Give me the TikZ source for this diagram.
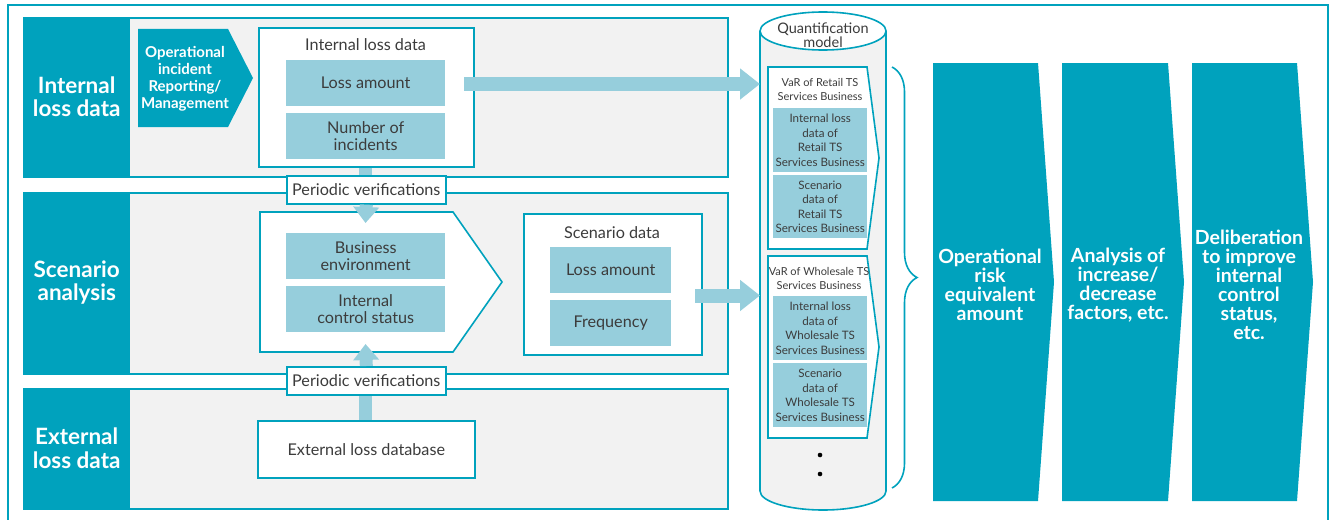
\documentclass[tikz,border=0pt]{standalone}
\usepackage{fontspec}
\setmainfont{Lato}
\usetikzlibrary{arrows.meta,decorations.pathreplacing,calc}
\definecolor{teal0}{RGB}{0,162,189}
\definecolor{lblue}{RGB}{150,206,220}
\definecolor{bggray}{RGB}{242,242,242}
\definecolor{txt}{RGB}{60,60,60}

\begin{document}
\begin{tikzpicture}[x=1pt,y=-1pt,
  band/.style={draw=teal0, fill=bggray, line width=1.6pt, inner sep=0pt, anchor=north west},
  bandlab/.style={fill=teal0, text=white, font=\bfseries\fontsize{22.5}{23.5}\selectfont,
    align=center, inner sep=0pt, anchor=north west},
  wbox/.style={draw=teal0, fill=white, line width=1.6pt, inner sep=0pt, anchor=north west,
    text=txt, font=\fontsize{16.2}{17.5}\selectfont, align=center},
  wshape/.style={draw=teal0, fill=white, line width=1.6pt},
  item/.style={fill=lblue, text=txt, font=\fontsize{16.2}{17.5}\selectfont, align=center,
    inner sep=0pt, anchor=north west},
  smitem/.style={fill=lblue, text=txt, font=\fontsize{11.6}{14.5}\selectfont, align=center,
    inner sep=0pt, anchor=north west},
  title/.style={text=txt, font=\fontsize{16.2}{17.5}\selectfont, align=center, inner sep=0pt},
  smtitle/.style={text=txt, font=\fontsize{11}{14.5}\selectfont, align=center, inner sep=0pt},
  bigtxt/.style={text=white, font=\bfseries\fontsize{19.5}{19}\selectfont, align=center, inner sep=0pt},
  stub/.style={draw=lblue, line width=13pt},
  hflow/.style={draw=lblue, line width=14pt, -{Triangle[width=30pt,length=20pt]}},
  vflow/.style={draw=lblue, line width=13pt, -{Triangle[width=25pt,length=16pt]}},
  chevron/.style={fill=teal0}
]
\useasboundingbox (0,0) rectangle (1329,519);

% outer frame
\draw[teal0, line width=1.5pt] (8,5) rectangle (1328,535);

% three horizontal bands
\node[band, minimum width=704pt, minimum height=159pt] (band1) at (23,17) {};
\node[band, minimum width=704pt, minimum height=181pt] (band2) at (23,192) {};
\node[band, minimum width=704pt, minimum height=120pt] (band3) at (23,388) {};
\node[bandlab, minimum width=107pt, minimum height=159pt] (lab1) at (23,17) {Internal\\loss data};
\node[bandlab, minimum width=107pt, minimum height=181pt] (lab2) at (23,192) {Scenario\\analysis};
\node[bandlab, minimum width=107pt, minimum height=120pt] (lab3) at (23,388) {External\\loss data};

% incident reporting chevron
\fill[teal0] (138,29) -- (228,29) -- (253,78) -- (228,127) -- (138,127) -- cycle;
\node[text=white, font=\bfseries\fontsize{15}{17}\selectfont, align=center, inner sep=0pt]
  (oirm) at (185,79) {Operational\\incident\\Reporting/\\Management};

% stubs between boxes and verification labels
\coordinate (ildS) at (365.5,166);
\coordinate (pv1N) at (365.5,175);
\coordinate (pv2S) at (365.5,394);
\coordinate (extN) at (365.5,420);
\draw[stub] (ildS) -- (pv1N);
\draw[stub] (pv2S) -- (extN);

% internal loss data
\node[wbox, minimum width=215pt, minimum height=139pt] (ild) at (258,27) {};
\node[title] (ildT) at (365.5,45) {Internal loss data};
\node[item, minimum width=159pt, minimum height=46pt] (ilLoss) at (286,60) {Loss amount};
\node[item, minimum width=159pt, minimum height=46pt] (ilNum) at (286,113) {Number of\\incidents};

% scenario inputs
\draw[wshape] (260,212) -- (453,212) -- (502,282) -- (453,352) -- (260,352) -- cycle;
\coordinate (scenTop) at (365.5,212);
\coordinate (scenBot) at (365.5,352);
\node[item, minimum width=159pt, minimum height=46pt] (busEnv) at (286,233) {Business\\environment};
\node[item, minimum width=159pt, minimum height=46pt] (ictl) at (286,286) {Internal\\control status};

% scenario data
\node[wbox, minimum width=178pt, minimum height=141pt] (scd) at (523,213) {};
\node[title] (scdT) at (612,233) {Scenario data};
\node[item, minimum width=121pt, minimum height=46pt] (scLoss) at (550,247) {Loss amount};
\node[item, minimum width=121pt, minimum height=46pt] (scFreq) at (550,300) {Frequency};

% external database
\node[wbox, minimum width=217pt, minimum height=57pt] (ext) at (257,420) {External loss database};

% periodic verifications
\node[wbox, minimum width=159pt, minimum height=28pt] (pv1) at (286,175) {Periodic verifications};
\node[wbox, minimum width=159pt, minimum height=28pt] (pv2) at (286,366) {Periodic verifications};

% quantification model cylinder
\filldraw[draw=teal0, fill=bggray, line width=1.6pt]
  (760,31) -- (760,491) arc[start angle=180, end angle=0, x radius=63, y radius=19] -- (886,31);
\draw[draw=teal0, fill=white, line width=1.6pt] (823,31) ellipse[x radius=63, y radius=19];
\node[smtitle, font=\fontsize{14.5}{14.5}\selectfont] (qm) at (823,35) {Quantification\\model};
\coordinate (cylW) at (760,0);

\draw[wshape] (768,67) -- (867,67) -- (879,158) -- (867,249) -- (768,249) -- cycle;
\node[smtitle] (var1) at (820,89.5) {VaR of Retail TS\\Services Business};
\node[smitem, minimum width=94pt, minimum height=64pt] (r1a) at (773,108) {Internal loss\\data of\\Retail TS\\Services Business};
\node[smitem, minimum width=94pt, minimum height=63pt] (r1b) at (773,175) {Scenario\\data of\\Retail TS\\Services Business};

\draw[wshape] (768,256) -- (867,256) -- (879,347) -- (867,438) -- (768,438) -- cycle;
\node[smtitle] (var2) at (819,278.5) {VaR of Wholesale TS\\Services Business};
\node[smitem, minimum width=94pt, minimum height=64pt] (w1a) at (773,296) {Internal loss\\data of\\Wholesale TS\\Services Business};
\node[smitem, minimum width=94pt, minimum height=64pt] (w1b) at (773,363) {Scenario\\data of\\Wholesale TS\\Services Business};

\fill[black] (820,455) circle (2.3pt);
\fill[black] (820,474) circle (2.3pt);

% flows
\coordinate (a1s) at (464,84);
\coordinate (a2s) at (695,295.5);
\draw[hflow] (a1s) -- (cylW |- a1s);
\draw[hflow] (a2s) -- (cylW |- a2s);
\draw[vflow] (pv1.south) -- ($(scenTop)+(0,11)$);
\draw[vflow] (pv2.north) -- ($(scenBot)+(0,-8)$);

% brace
\draw[teal0, line width=1.6pt, decorate, decoration={brace, amplitude=25pt}] (892,67) -- (892,488);

% result chevrons
\fill[chevron] (933,63) -- (1038,63) -- (1054,282) -- (1038,501) -- (933,501) -- cycle;
\fill[chevron] (1062,63) -- (1168,63) -- (1184,282) -- (1168,501) -- (1062,501) -- cycle;
\fill[chevron] (1192,63) -- (1297,63) -- (1313,282) -- (1297,501) -- (1192,501) -- cycle;
\node[bigtxt] (res1) at (990,285) {Operational\\risk\\equivalent\\amount};
\node[bigtxt] (res2) at (1118,285) {Analysis of\\increase/\\decrease\\factors, etc.};
\node[bigtxt] (res3) at (1249,285) {Deliberation\\to improve\\internal\\control\\status,\\etc.};
\end{tikzpicture}
\end{document}
